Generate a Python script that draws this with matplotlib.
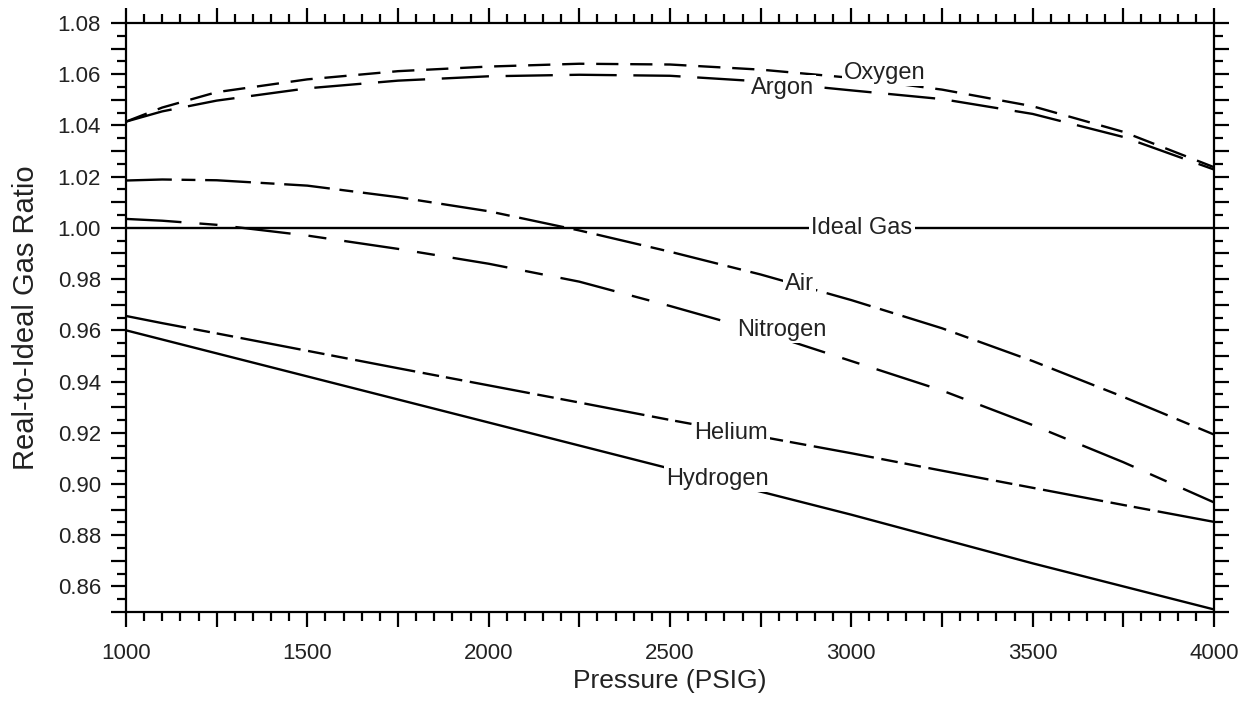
import numpy as np
import matplotlib
matplotlib.use("Agg")
import matplotlib.pyplot as plt
from matplotlib.ticker import MultipleLocator, FuncFormatter

plt.rcParams['font.family'] = ['Liberation Sans', 'DejaVu Sans']
plt.rcParams['lines.scale_dashes'] = False

# data
pressure = [1000, 1100, 1250, 1500, 1750, 2000, 2250, 2500, 2750, 3000, 3250, 3500, 3750, 4000]
oxygen = [1.0415, 1.047, 1.053, 1.058, 1.0612, 1.063, 1.0641, 1.0638, 1.0618, 1.0586, 1.054, 1.0475, 1.0375, 1.0237]
argon = [1.0415, 1.0455, 1.0497, 1.0545, 1.0575, 1.0592, 1.0598, 1.0594, 1.0572, 1.0537, 1.0503, 1.0445, 1.0355, 1.0228]
air = [1.0185, 1.0189, 1.0186, 1.0165, 1.012, 1.0065, 0.999, 0.9907, 0.9818, 0.9718, 0.9608, 0.948, 0.934, 0.9193]
nitrogen = [1.0035, 1.0028, 1.0012, 0.997, 0.9918, 0.986, 0.979, 0.9695, 0.9595, 0.948, 0.9365, 0.923, 0.9085, 0.8928]
helium = [0.9656, 0.9628, 0.9588, 0.952, 0.9452, 0.9385, 0.9318, 0.925, 0.9185, 0.912, 0.9052, 0.8985, 0.8918, 0.8852]
hydrogen = [0.960, 0.9564, 0.951, 0.942, 0.933, 0.924, 0.915, 0.906, 0.897, 0.888, 0.8785, 0.869, 0.860, 0.851]
ideal = [1.0] * len(pressure)

# label positions (pressure, ratio)
labels = {
    "Oxygen": (3093, 1.0605),
    "Argon": (2811, 1.0546),
    "Ideal Gas": (3029, 1.0),
    "Air": (2858, 0.978),
    "Nitrogen": (2809, 0.960),
    "Helium": (2668, 0.920),
    "Hydrogen": (2632, 0.9019),
}

fig = plt.figure(figsize=(12.45, 7.02), dpi=100)
ax = fig.add_axes([0.1012, 0.1282, 0.8739, 0.839])

lw = 1.7
ax.plot(pressure, oxygen, color="black", lw=lw, dashes=(16, 8.5))
ax.plot(pressure, argon, color="black", lw=lw, dashes=(34, 12))
ax.plot(pressure, ideal, color="black", lw=lw)
ax.plot(pressure, air, color="black", lw=lw, dashes=(33, 7, 10, 7))
ax.plot(pressure, nitrogen, color="black", lw=lw, dashes=(40, 13, 13, 13))
ax.plot(pressure, helium, color="black", lw=lw, dashes=(44, 5.5, 12, 5, 12, 5.5))
ax.plot(pressure, hydrogen, color="black", lw=lw)

for name, (px, py) in labels.items():
    ax.text(px, py, name, fontsize=17, ha="center", va="center", color="#222222",
            zorder=5, bbox=dict(facecolor="white", edgecolor="none", pad=1.5))

ax.set_xlim(1000, 4000)
ax.set_ylim(0.85, 1.08)

ax.xaxis.set_major_locator(MultipleLocator(250))
ax.xaxis.set_minor_locator(MultipleLocator(50))
ax.yaxis.set_major_locator(MultipleLocator(0.01))
ax.yaxis.set_minor_locator(MultipleLocator(0.005))
ax.xaxis.set_major_formatter(FuncFormatter(lambda v, p: "%d" % v if round(v) % 500 == 0 else ""))
ax.yaxis.set_major_formatter(FuncFormatter(lambda v, p: "%.2f" % v if round(v * 100) % 2 == 0 else ""))

ax.tick_params(which="both", direction="out", top=True, right=True, width=1.6,
               labelsize=16, labelcolor="#222222")
ax.tick_params(which="major", length=11)
ax.tick_params(which="minor", length=6.5)
ax.tick_params(axis="x", which="major", pad=11)
ax.tick_params(axis="y", which="major", pad=7)
for s in ax.spines.values():
    s.set_linewidth(1.6)

ax.set_xlabel("Pressure (PSIG)", fontsize=19, color="#222222", labelpad=4)
ax.set_ylabel("Real-to-Ideal Gas Ratio", fontsize=21, color="#222222", labelpad=13)

fig.savefig("out.png", dpi=100)
